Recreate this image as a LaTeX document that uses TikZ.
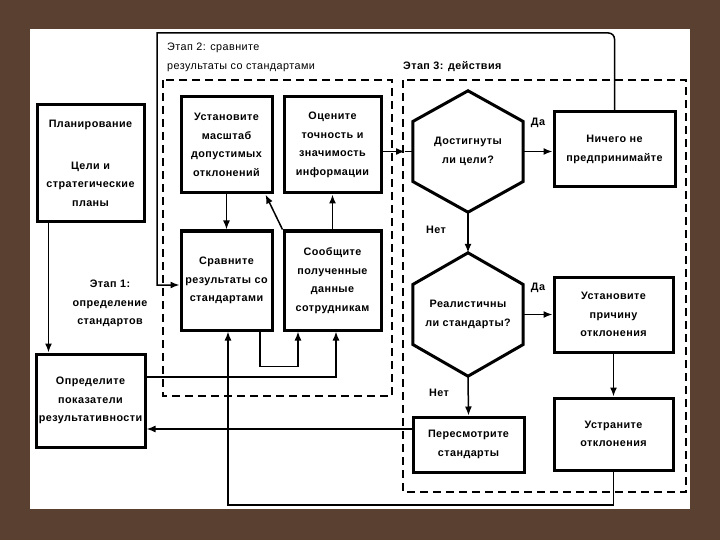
\documentclass[tikz,border=0pt]{standalone}
\usepackage{fontspec}
\setmainfont{Liberation Sans}[LetterSpace=4]
\usetikzlibrary{arrows.meta,calc}
\definecolor{wood}{HTML}{5A4030}
\begin{document}
\begin{tikzpicture}[x=1pt,y=-1pt,
  txt/.style={font=\bfseries\fontsize{10.8}{18.5}\selectfont},
  box/.style={txt,draw,line width=3pt,align=center,inner sep=0pt},
  conn/.style={line width=1.5pt},
  arr/.style={conn,-{Latex[length=9pt,width=7pt]}},
  frame/.style={line width=1.9pt,dash pattern=on 8pt off 5pt},
  hexline/.style={line width=3pt,line join=miter},
  lbl/.style={txt,inner sep=0pt,align=center}
]
\fill[wood] (0,0) rectangle (720,540);
\fill[white] (30,29) rectangle (690,509);
\useasboundingbox (0,0) rectangle (720,540);

% frames
\draw[frame] (163,80) rectangle (392,396);
\draw[frame] (403,80) rectangle (686,492);

% boxes
\node[box,minimum width=107pt,minimum height=117pt] (plan) at (90.5,163.5) {Планирование\\[23pt]Цели и\\стратегические\\планы};
\node[box,minimum width=91pt,minimum height=96pt] (ust) at (226.5,145) {Установите\\масштаб\\допустимых\\отклонений};
\node[box,minimum width=97pt,minimum height=96pt] (ocen) at (332.5,145) {Оцените\\точность и\\значимость\\информации};
\node[box,minimum width=91pt,minimum height=99pt] (sravn) at (226.5,280.5) {Сравните\\результаты со\\стандартами};
\node[box,minimum width=97pt,minimum height=99pt] (soob) at (332.5,280.5) {Сообщите\\полученные\\данные\\сотрудникам};
\node[box,minimum width=109pt,minimum height=93pt] (opr) at (90.5,400.5) {Определите\\показатели\\результативности};
\node[box,minimum width=121pt,minimum height=75pt] (nich) at (614.5,149.5) {Ничего не\\предпринимайте};
\node[box,minimum width=119pt,minimum height=75pt] (prich) at (613.5,314.5) {Установите\\причину\\отклонения};
\node[box,minimum width=119pt,minimum height=72pt] (ustr) at (613.5,434) {Устраните\\отклонения};
\node[box,minimum width=111pt,minimum height=55pt] (peresm) at (468.5,444.5) {Пересмотрите\\стандарты};

% hexagons
\node[lbl,minimum width=110pt,minimum height=121pt] (h1) at (468,151.5) {Достигнуты\\ли цели?};
\node[lbl,minimum width=110pt,minimum height=123pt] (h2) at (468,314.5) {Реалистичны\\ли стандарты?};
\foreach \h in {h1,h2}{
  \draw[hexline] (\h.north) -- ($(\h.east)+(0,-30)$) -- ($(\h.east)+(0,30)$) -- (\h.south)
    -- ($(\h.west)+(0,30)$) -- ($(\h.west)+(0,-30)$) -- cycle;
}

% labels
\node[lbl] (da1) at (538,123) {Да};
\node[lbl] (da2) at (538,288) {Да};
\node[lbl] (net1) at (436,230) {Нет};
\node[lbl] (net2) at (439,393) {Нет};
\node[lbl] (et1) at (110,303.5) {Этап 1:\\определение\\стандартов};
\node[anchor=west,inner sep=0pt,align=left,font=\fontsize{10.8}{19}\selectfont] (et2) at (167,57.5) {Этап 2: сравните\\результаты со стандартами};
\node[lbl,anchor=west] (et3) at (403,67) {Этап 3: действия};

% helper coordinates
\coordinate (tl) at (157,33);
\coordinate (sravnin) at ($(sravn.west)+(0,4.5)$);
\coordinate (j) at (405,151.5);
\coordinate (bl) at (228,505);

% connectors
\draw[arr] ($(plan.south west)+(13,0)$) -- ($(opr.north west)+(14,0)$);
\draw[arr] (nich.north) [rounded corners=6pt] -- (nich.north |- tl) [sharp corners] -- (tl) -- (tl |- sravnin) -- (sravnin);
\draw[arr] (ust.south) -- (sravn.north);
\draw[arr] (soob.north west) -- ($(ust.south east)+(-8,0)$);
\draw[arr] (soob.north) -- (ocen.south);
\draw[arr] ($(sravn.south)+(33.5,0)$) -- ++(0,35) -| ($(soob.south)+(-34.5,0)$);
\draw[arr] ($(opr.east)+(0,-23.5)$) -| ($(soob.south)+(3.5,0)$);
\draw[arr] (h1.west -| ocen.east) -- (j);
\draw[conn] (j) -- (h1.west);
\draw[arr] (h1.east) -- (h1.east -| nich.west);
\draw[arr] (h1.south) -- (h2.north);
\draw[arr] (h2.east) -- (h2.east -| prich.west);
\draw[arr] (h2.south) -- (peresm.north);
\draw[arr] (prich.south) -- (ustr.north);
\draw[arr] ($(peresm.west)+(0,-15.5)$) -- ($(opr.east |- peresm.west)+(0,-15.5)$);
\draw[arr] (ustr.south) |- (bl) -- (bl |- sravn.south);
\end{tikzpicture}
\end{document}
